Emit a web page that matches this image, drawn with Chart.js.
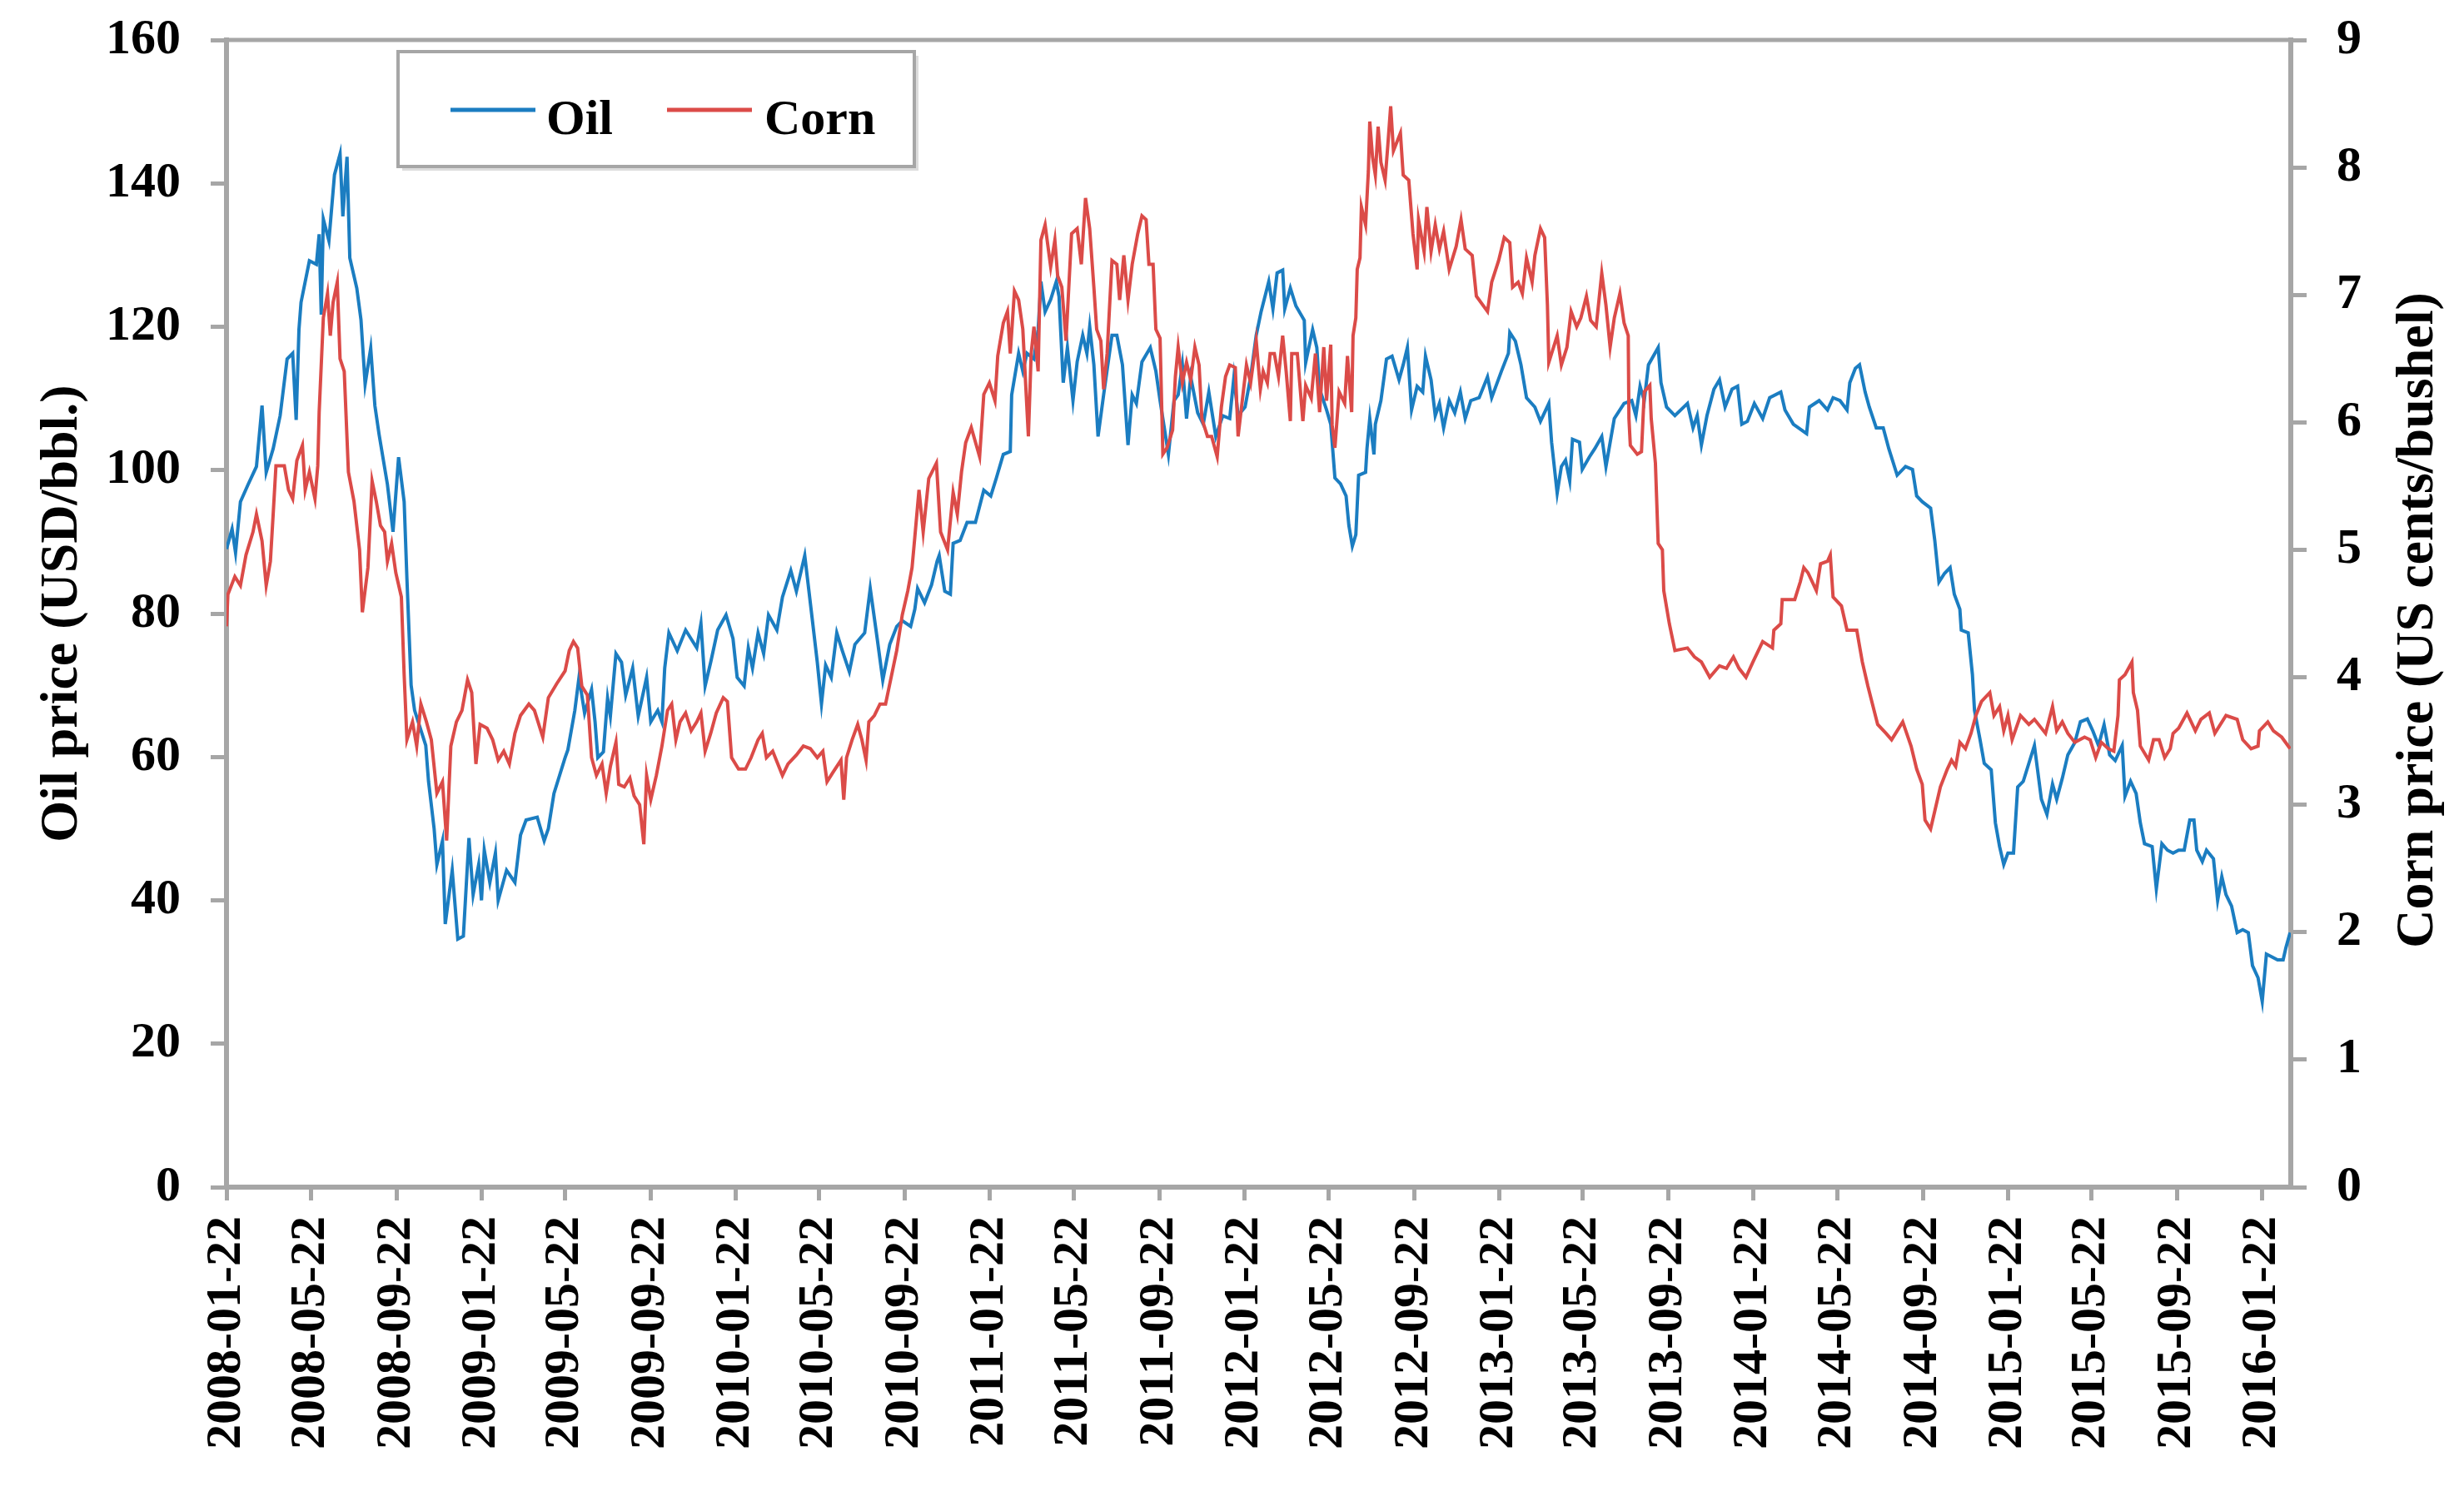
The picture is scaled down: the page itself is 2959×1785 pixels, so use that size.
<!DOCTYPE html>
<html>
<head>
<meta charset="utf-8">
<title>Oil and corn prices</title>
<script src="https://cdn.jsdelivr.net/npm/chart.js@4.4.1/dist/chart.umd.min.js"></script>
<style>
  html, body { margin: 0; padding: 0; background: #fff; }
  #wrap { width: 2959px; height: 1785px; }
</style>
</head>
<body>
<div id="wrap"><canvas id="chart" width="2959" height="1785"></canvas></div>
<script>
// day offsets are counted from the first date on the axis, 2008-01-22
const startDate = '2008-01-22';
const tickLabels = ['2008-01-22','2008-05-22','2008-09-22','2009-01-22','2009-05-22','2009-09-22',
  '2010-01-22','2010-05-22','2010-09-22','2011-01-22','2011-05-22','2011-09-22','2012-01-22',
  '2012-05-22','2012-09-22','2013-01-22','2013-05-22','2013-09-22','2014-01-22','2014-05-22',
  '2014-09-22','2015-01-22','2015-05-22','2015-09-22','2016-01-22'];
const lastDay = 2963;

const oilDays = [0,8,13,20,31,43,51,57,67,77,87,95,100,104,107,119,129,133,136,139,147,155,163,167,173,177,187,193,199,207,213,219,231,239,247,255,259,265,270,286,290,298,302,310,314,324,332,340,348,354,362,366,370,378,386,390,402,414,422,430,446,456,462,470,486,490,
  500,506,514,524,529,533,541,547,551,559,567,573,583,591,603,609,619,625,629,635,647,659,675,681,687,695,705,717,727,733,743,749,755,763,771,778,790,798,810,818,830,834,842,848,854,860,868,876,884,894,902,916,924,934,942,952,962,970,982,
  988,992,1002,1012,1020,1023,1031,1039,1043,1053,1063,1075,1087,1097,1105,1115,1125,1127,1137,1143,1149,1159,1165,1169,1175,1183,1191,1195,1201,1207,1215,1221,1229,1235,1239,1245,1251,1259,1271,1278,1286,1294,1300,1306,1314,1326,1334,1340,1352,1360,1366,1372,1378,1384,1394,1402,1410,1420,1430,1440,1446,1452,1462,1470,1478,
  1485,1496,1502,1508,1516,1519,1527,1535,1547,1549,1559,1565,1569,1579,1585,1591,1599,1607,1611,1616,1621,1625,1635,1637,1641,1647,1649,1657,1665,1673,1683,1689,1695,1701,1709,1717,1721,1729,1735,1741,1747,1755,1763,1771,1778,1786,1798,1810,1816,1830,1840,1842,1850,1858,1866,1878,1886,1898,1902,1910,1916,1922,1928,1932,1942,1946,1956,1964,1974,1980,
  1992,2006,2017,2023,2029,2035,2041,2055,2059,2067,2079,2097,2105,2111,2117,2125,2135,2143,2151,2161,2169,2175,2183,2193,2205,2215,2231,2237,2249,2268,2272,2286,2298,2306,2316,2326,2330,2338,2344,2352,2358,2368,2378,2386,2398,2410,2420,2426,2434,2446,2452,2458,2466,
  2474,2480,2488,2490,2500,2506,2509,2517,2523,2533,2539,2545,2551,2557,2565,2571,2579,2587,2595,2605,2613,2621,2627,2635,2643,2653,2661,2671,2679,2687,2695,2703,2711,2721,2725,2733,2741,2747,2753,2764,2770,2778,2786,2794,2802,2810,2818,2824,2828,2836,2842,2852,2858,2864,2870,2878,2886,2894,2902,2908,2916,2922,2928,2936,2944,2952,2956,2962];
const oilPrice = [89,91.8,88.5,95.6,98,100.5,109,99.7,103,107.6,115.5,116.3,107,119.6,123.4,129.2,128.7,132.9,121.7,135,132,141.2,144.1,135.4,143.7,129.6,125.4,121,112,117,109,105,98,91.4,101.8,95.6,84.8,70,66.5,61.6,56.6,50,45,48.3,36.7,44.2,34.6,35,48.7,40.8,45,40,47,42.5,46.6,40,44.2,42.5,49.1,51.2,51.6,48.3,50,54.9,59.9,61,
  66.5,71.1,66.1,69.4,64.9,59.9,60.7,68.2,65.7,74.4,73.2,68.6,72.4,65.7,71.1,64.9,66.5,64.9,72.4,77.3,74.8,77.7,75.2,78.6,69.9,73.2,77.7,79.8,76.5,71.1,69.9,75.2,72.4,77.3,74.4,79.8,77.7,82.3,86,83.1,88.1,84.8,78.2,73.2,67.4,72.8,71.1,77.3,74.8,71.9,75.7,77.3,83.5,76.5,70.7,75.7,78.2,79,78.2,
  80.6,83.5,81.5,84,87.3,88.1,83.1,82.7,89.8,90.2,92.7,92.7,97.2,96.4,98.9,102.2,102.6,110.5,116.3,113.8,116.3,115.5,119.6,126.3,122.1,123.8,126.3,124.2,112.2,117.1,109.7,115.1,118.8,116.3,120,114.7,104.7,110.5,118.8,118.8,114.7,103.5,110.5,109.3,115.1,117.1,113.8,109.7,102.2,109.7,110.5,114.7,107.2,113,108,106.4,110.9,104.7,107.6,107.2,113,107.6,108.8,113,118.8,
  122.1,126.3,122.5,127.5,127.9,122.5,125.4,122.9,120.9,115,119.6,117.1,111.3,108.4,106.4,98.9,98.1,96.4,92.3,89.4,91,99.3,99.7,103,107.2,102.2,106.4,109.7,115.5,115.9,112.6,114.7,117.1,108.4,111.7,110.9,115.9,112.6,107.6,109.3,105.9,109.7,108,110.9,107.2,109.7,110.1,113,110.1,113.8,116.3,119.2,118,114.7,110.1,108.8,106.8,109.3,103.9,96.8,100.5,101.4,98.5,104.3,103.9,100.1,101.8,103,104.7,100.5,
  107.2,109.3,109.7,107.6,111.7,109.7,114.7,117.1,112.2,108.8,107.6,109.3,105.9,107.6,103.5,107.6,111.3,112.6,108.8,111.3,111.7,106.4,106.8,109.3,107.2,110.1,110.9,108.4,106.4,105.1,108.8,109.7,108.4,110.1,109.7,108.4,112.2,114.2,114.7,110.9,108.8,105.9,105.9,103,99.3,100.5,100.1,96.4,95.6,94.7,90.2,84.4,85.6,
  86.4,82.7,80.6,77.7,77.3,71.5,66.5,62.4,59.1,58.2,50.8,47.5,45,46.6,46.6,55.8,56.6,59.1,61.6,54.1,52,56.2,54.1,57,60.3,62,64.9,65.3,63.6,61.6,64.5,60.3,59.5,61.6,54.5,56.6,54.9,50.8,47.9,47.5,41.6,47.9,47,46.6,47,47,51.2,51.2,47,45.4,47,45.8,40,43.3,40.8,39.2,35.5,35.9,35.5,30.9,29.2,25.9,32.5,32.1,31.7,31.7,33.4,35.5];

const cornDays = [0,2,12,20,28,38,43,51,57,63,67,71,83,89,95,101,109,113,119,127,131,133,139,145,149,153,159,163,169,175,183,191,195,203,209,215,221,227,231,237,243,251,255,259,267,273,279,287,294,302,310,316,322,330,338,346,352,358,364,374,382,390,398,406,414,422,434,442,454,462,474,486,
  492,498,504,510,518,524,531,539,545,551,559,563,571,579,585,593,599,603,609,617,625,633,639,645,651,659,667,675,681,687,695,703,713,719,725,735,745,753,763,769,775,784,798,806,818,828,838,848,856,862,870,882,886,890,898,906,912,918,922,930,938,946,954,962,970,978,984,
  988,994,1000,1008,1019,1025,1035,1043,1049,1055,1061,1069,1081,1087,1095,1103,1107,1115,1121,1125,1131,1137,1143,1151,1155,1159,1165,1169,1175,1183,1189,1193,1199,1205,1213,1221,1227,1233,1239,1245,1249,1255,1259,1264,1271,1278,1282,1288,1294,1300,1308,1314,1320,1324,1330,1334,1340,1344,1350,1358,1362,1366,1372,1378,1384,1390,1396,1400,1408,1414,1422,1428,1434,1440,1448,1452,1458,1464,1470,1478,
  1484,1488,1494,1498,1504,1510,1516,1521,1527,1529,1537,1545,1549,1557,1563,1569,1575,1579,1585,1587,1591,1597,1605,1609,1615,1617,1621,1623,1627,1629,1635,1639,1641,1645,1649,1653,1657,1663,1667,1671,1675,1685,1689,1697,1703,1709,1711,1719,1723,1729,1735,1741,1747,1755,1765,1772,1778,1788,1794,1810,1816,1826,1834,1842,1846,1854,1860,1866,1874,1878,1886,1892,1896,1898,1910,1916,1924,1930,1938,1944,1952,1958,1966,1974,
  1980,1986,1992,2000,2006,2012,2013,2015,2025,2031,2035,2043,2045,2051,2055,2061,2063,2071,2079,2097,2107,2117,2129,2143,2153,2163,2171,2181,2191,2205,2219,2221,2231,2233,2251,2259,2264,2270,2282,2288,2298,2302,2306,2318,2326,2340,2348,2356,2370,2382,2390,2406,2418,2426,2434,2438,2446,2452,2460,2470,
  2476,2482,2488,2496,2504,2511,2519,2531,2537,2545,2551,2557,2563,2575,2587,2595,2611,2621,2627,2635,2643,2653,2667,2675,2683,2691,2701,2709,2715,2717,2725,2735,2737,2743,2747,2759,2766,2774,2782,2790,2794,2802,2814,2826,2834,2846,2854,2870,2886,2894,2906,2916,2918,2930,2938,2950,2962];
const cornPrice = [4.40,4.65,4.79,4.72,4.96,5.14,5.28,5.07,4.72,4.91,5.28,5.66,5.66,5.47,5.40,5.70,5.82,5.47,5.61,5.40,5.66,6.08,6.82,7.01,6.68,6.94,7.10,6.50,6.40,5.61,5.38,5.00,4.51,4.86,5.54,5.38,5.19,5.14,4.91,5.05,4.82,4.63,4.02,3.51,3.65,3.46,3.79,3.65,3.51,3.09,3.18,2.72,3.46,3.65,3.74,3.98,3.88,3.32,3.63,3.60,3.51,3.35,3.42,3.32,3.56,3.70,3.79,3.74,3.53,3.84,3.95,4.05,
  4.21,4.28,4.23,3.93,3.86,3.37,3.23,3.32,3.09,3.30,3.49,3.16,3.14,3.21,3.07,3.00,2.69,3.23,3.04,3.23,3.46,3.74,3.79,3.51,3.65,3.72,3.58,3.65,3.72,3.42,3.56,3.72,3.84,3.81,3.37,3.28,3.28,3.37,3.51,3.56,3.37,3.42,3.23,3.32,3.39,3.46,3.44,3.37,3.42,3.18,3.25,3.35,3.04,3.37,3.51,3.63,3.51,3.35,3.65,3.70,3.79,3.79,4.00,4.21,4.49,4.68,4.86,
  5.10,5.47,5.14,5.56,5.68,5.14,5.00,5.45,5.28,5.61,5.84,5.96,5.73,6.22,6.31,6.17,6.52,6.78,6.87,6.54,7.03,6.96,6.73,5.89,6.54,6.75,6.40,7.43,7.55,7.22,7.43,7.15,7.06,6.64,7.48,7.52,7.24,7.76,7.52,7.06,6.73,6.64,6.26,6.54,7.27,7.24,6.96,7.31,6.96,7.24,7.48,7.62,7.59,7.24,7.24,6.73,6.66,5.75,5.80,5.94,6.36,6.59,6.31,6.47,6.33,6.59,6.45,6.03,5.89,5.89,5.73,6.12,6.36,6.45,6.43,5.89,6.17,6.45,6.31,6.64,
  6.26,6.40,6.31,6.54,6.54,6.36,6.68,6.40,6.01,6.54,6.54,6.01,6.29,6.19,6.54,6.08,6.59,6.17,6.61,5.98,5.80,6.24,6.15,6.52,6.08,6.68,6.82,7.20,7.29,7.69,7.55,7.97,8.36,8.08,7.94,8.32,8.04,7.90,8.18,8.48,8.13,8.27,7.94,7.90,7.48,7.20,7.59,7.34,7.69,7.34,7.55,7.36,7.50,7.20,7.38,7.59,7.36,7.31,6.99,6.87,7.10,7.27,7.45,7.41,7.06,7.10,7.01,7.29,7.10,7.31,7.52,7.45,6.92,6.47,6.68,6.45,6.59,6.87,6.75,6.82,6.99,6.80,6.75,7.17,
  6.92,6.59,6.82,7.01,6.78,6.68,6.03,5.82,5.75,5.77,6.24,6.29,6.03,5.68,5.05,5.00,4.68,4.42,4.21,4.23,4.16,4.12,4.00,4.09,4.07,4.16,4.07,4.00,4.12,4.28,4.23,4.37,4.42,4.61,4.61,4.75,4.86,4.82,4.68,4.89,4.91,4.96,4.63,4.56,4.37,4.37,4.12,3.93,3.63,3.56,3.51,3.65,3.46,3.28,3.16,2.88,2.81,2.95,3.14,3.28,
  3.35,3.30,3.49,3.44,3.56,3.70,3.81,3.88,3.70,3.77,3.58,3.70,3.51,3.70,3.63,3.67,3.56,3.77,3.58,3.65,3.56,3.49,3.53,3.51,3.37,3.49,3.44,3.42,3.70,3.98,4.02,4.12,3.88,3.74,3.46,3.35,3.51,3.51,3.37,3.44,3.56,3.60,3.72,3.58,3.67,3.72,3.56,3.70,3.67,3.51,3.44,3.46,3.58,3.65,3.58,3.53,3.44];

const OIL_BLUE = '#1b7dc1';
const CORN_RED = '#db4b48';
const AXIS_GREY = '#a6a6a6';
const FONT = '"Liberation Serif", "Times New Roman", serif';

function dayOffset(str) {
  const p = str.split('-').map(Number);
  const q = startDate.split('-').map(Number);
  return Math.round((Date.UTC(p[0], p[1] - 1, p[2]) - Date.UTC(q[0], q[1] - 1, q[2])) / 86400000);
}
const tickDays = tickLabels.map(dayOffset);

const tickFont = { family: FONT, size: 60, weight: 'bold' };
const titleFont = { family: FONT, size: 64, weight: 'bold' };

// fixed box sizes so the plot area lands where the original has it
function fixVertical(width) {
  return s => { s.width = width; s.paddingTop = 0; s.paddingBottom = 0; };
}

// legend box, top border of the plot and the right-hand title
const extras = {
  id: 'extras',
  afterDraw(chart) {
    const ctx = chart.ctx;
    const a = chart.chartArea;
    ctx.save();
    ctx.strokeStyle = AXIS_GREY;
    ctx.lineWidth = 5;
    ctx.beginPath();
    ctx.moveTo(a.left, a.top);
    ctx.lineTo(a.right, a.top);
    ctx.stroke();

    ctx.fillStyle = '#000';
    ctx.font = 'bold 64px ' + FONT;
    ctx.textAlign = 'center';
    ctx.textBaseline = 'middle';
    ctx.translate(2904, (a.top + a.bottom) / 2 + 8);
    ctx.rotate(-Math.PI / 2);
    ctx.fillText('Corn price (US cents/bushel)', 0, 0);
    ctx.restore();

    ctx.save();
    const bx = 478, by = 62, bw = 620, bh = 138;
    ctx.fillStyle = '#dcdcdc';
    ctx.fillRect(bx + 5, by + 5, bw, bh);
    ctx.fillStyle = '#fff';
    ctx.fillRect(bx, by, bw, bh);
    ctx.strokeStyle = AXIS_GREY;
    ctx.lineWidth = 4;
    ctx.strokeRect(bx, by, bw, bh);
    const items = [[541, 656], [801, 918]];
    chart.data.datasets.forEach((ds, i) => {
      const [lx, tx] = items[i];
      ctx.strokeStyle = ds.borderColor;
      ctx.lineWidth = 5;
      ctx.beginPath();
      ctx.moveTo(lx, 132);
      ctx.lineTo(lx + 102, 132);
      ctx.stroke();
      ctx.fillStyle = '#000';
      ctx.font = 'bold 60px ' + FONT;
      ctx.textAlign = 'left';
      ctx.textBaseline = 'alphabetic';
      ctx.fillText(ds.label, tx, 161);
    });
    ctx.restore();
  }
};

new Chart(document.getElementById('chart'), {
  type: 'line',
  data: {
    datasets: [
      {
        label: 'Oil',
        data: oilDays.map((d, i) => ({ x: d, y: oilPrice[i] })),
        borderColor: OIL_BLUE,
        borderWidth: 4,
        pointRadius: 0,
        tension: 0,
        yAxisID: 'y',
        order: 1
      },
      {
        label: 'Corn',
        data: cornDays.map((d, i) => ({ x: d, y: cornPrice[i] })),
        borderColor: CORN_RED,
        borderWidth: 4,
        pointRadius: 0,
        tension: 0,
        yAxisID: 'y1',
        order: 0
      }
    ]
  },
  options: {
    responsive: false,
    animation: false,
    devicePixelRatio: 1,
    layout: { padding: { top: 48, left: 0, right: 0, bottom: 0 } },
    plugins: { legend: { display: false }, tooltip: { enabled: false } },
    scales: {
      x: {
        type: 'linear',
        min: 0,
        max: lastDay,
        afterBuildTicks: s => { s.ticks = tickDays.map(v => ({ value: v })); },
        afterFit: s => { s.height = 359; s.paddingLeft = 0; s.paddingRight = 0; },
        ticks: {
          autoSkip: false,
          minRotation: 90,
          maxRotation: 90,
          padding: 19,
          color: '#000',
          font: tickFont,
          callback: (v, i) => tickLabels[i]
        },
        grid: { drawOnChartArea: false, drawTicks: true, tickLength: 16, color: AXIS_GREY, lineWidth: 5 },
        border: { color: AXIS_GREY, width: 6 }
      },
      y: {
        position: 'left',
        min: 0,
        max: 160,
        afterFit: fixVertical(272),
        ticks: { stepSize: 20, padding: 36, color: '#000', font: tickFont },
        grid: { drawOnChartArea: false, drawTicks: true, tickLength: 19, color: AXIS_GREY, lineWidth: 5 },
        border: { color: AXIS_GREY, width: 6 },
        title: { display: true, text: 'Oil price (USD/bbl.)', color: '#000', font: titleFont, padding: { top: 37, bottom: 0 } }
      },
      y1: {
        position: 'right',
        min: 0,
        max: 9,
        afterFit: fixVertical(208),
        ticks: { stepSize: 1, padding: 36, color: '#000', font: tickFont },
        grid: { drawOnChartArea: false, drawTicks: true, tickLength: 19, color: AXIS_GREY, lineWidth: 5 },
        border: { color: AXIS_GREY, width: 6 }
      }
    }
  },
  plugins: [extras]
});
</script>
</body>
</html>
